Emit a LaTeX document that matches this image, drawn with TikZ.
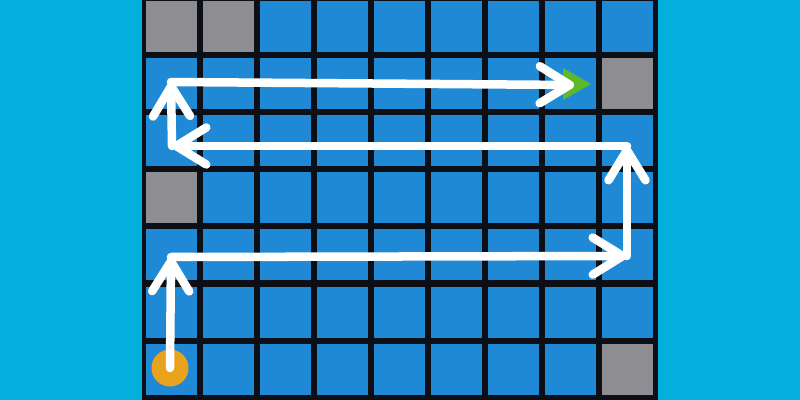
\documentclass[tikz,border=0pt]{standalone}
\usetikzlibrary{arrows.meta}
\definecolor{bgcyan}{RGB}{4,174,221}
\definecolor{griddark}{RGB}{12,16,22}
\definecolor{cellblue}{RGB}{32,137,214}
\definecolor{cellgray}{RGB}{142,142,146}
\definecolor{startorange}{RGB}{233,162,28}
\definecolor{goalgreen}{RGB}{92,186,42}
\tikzset{
  cellbox/.style={fill=cellblue},
  graybox/.style={fill=cellgray},
  patharrow/.style={draw=white, line width=0.085cm, line cap=round, line join=round,
    -{Straight Barb[length=0.3cm,width=0.37cm,round]}},
  startdot/.style={circle, fill=startorange, minimum size=0.37cm, inner sep=0pt},
}
\begin{document}
\begin{tikzpicture}[x=0.01cm,y=-0.01cm]
\useasboundingbox (0,0) rectangle (800,400);
\fill[bgcyan] (0,0) rectangle (800,400);
\fill[griddark] (142,-5) rectangle (658,405);
\foreach \i in {0,...,8}{
  \foreach \j in {0,...,6}{
    \fill[cellbox] ({145.5+57.1*\i},{1+57.1*\j}) rectangle +(51,51);
  }
}
\foreach \i/\j in {0/0,1/0,8/1,0/3,8/6}{
  \fill[graybox] ({145.5+57.1*\i},{1+57.1*\j}) rectangle +(51,51);
}
% goal marker
\fill[goalgreen] (563,68) -- (591,84) -- (563,100) -- cycle;
% start
\node[startdot] (start) at (170,368) {};
\coordinate (p1) at (171,257);
\coordinate (p2) at (627,256);
\coordinate (p3) at (627,146);
\coordinate (p4) at (172,146);
\coordinate (p5) at (171,82);
\coordinate (goal) at (574,85);
\draw[patharrow] (start.center) -- (p1);
\draw[patharrow] (p1) -- (p2);
\draw[patharrow] (p2) -- (p3);
\draw[patharrow] (p3) -- (p4);
\draw[patharrow] (p4) -- (p5);
\draw[patharrow] (p5) -- (goal);
\end{tikzpicture}
\end{document}
